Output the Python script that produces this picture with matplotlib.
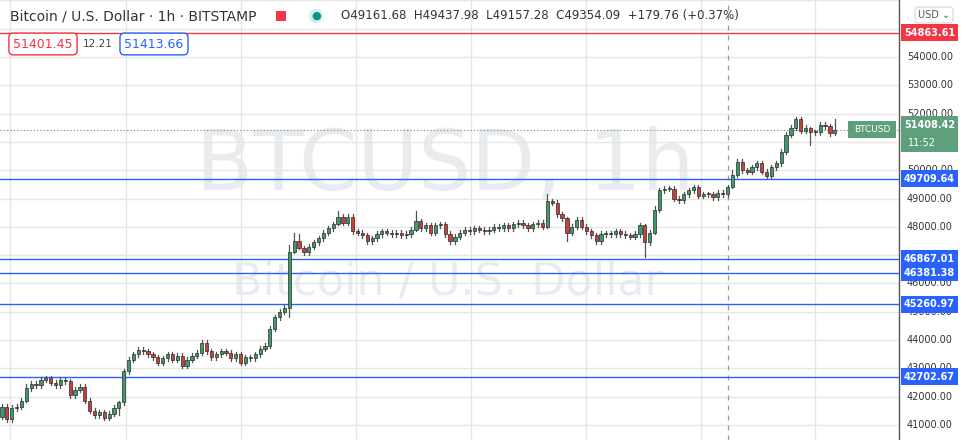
import numpy as np
import matplotlib.pyplot as plt
from matplotlib.patches import Rectangle

# hourly closes (BTC/USD, Bitstamp)
closes = [41650, 41200, 41600, 41650, 41850, 42300, 42450, 42400, 42600, 42650,
          42500, 42400, 42600, 42550, 42050, 42250, 42350, 41850, 41500, 41350,
          41450, 41250, 41400, 41600, 41800, 42900, 43300, 43500, 43650, 43600,
          43500, 43400, 43200, 43350, 43500, 43300, 43450, 43100, 43300, 43450,
          43550, 43900, 43600, 43400, 43500, 43600, 43550, 43350, 43500, 43200,
          43400, 43350, 43500, 43700, 43800, 44400, 44800, 45000, 45150, 47100,
          47500, 47250, 47100, 47300, 47450, 47600, 47800, 47950, 48100, 48350,
          48150, 48350, 47850, 47800, 47700, 47500, 47600, 47750, 47850, 47800,
          47750, 47800, 47700, 47750, 47900, 48200, 47950, 48050, 47800, 48050,
          48100, 47750, 47500, 47650, 47800, 47900, 47850, 47950, 47900, 47850,
          47900, 48000, 47950, 48050, 47950, 48100, 48150, 48050, 47950, 48100,
          48150, 48000, 48900, 48850, 48450, 48300, 47800, 48000, 48250, 48000,
          47850, 47700, 47500, 47750, 47750, 47750, 47850, 47750, 47700, 47650,
          47750, 48050, 47450, 47800, 48600, 49300, 49350, 49350, 49000, 48950,
          49150, 49300, 49400, 49100, 49150, 49150, 49050, 49200, 49150, 49400,
          49850, 50300, 50000, 49950, 50100, 50250, 49950, 49800, 50100, 50250,
          50650, 51250, 51500, 51800, 51400, 51500, 51350, 51350, 51600, 51550,
          51300, 51408.42]
first_open = 41300
# candles with long wicks: index -> (extra high, extra low)
long_wicks = {5: (150, 0), 24: (0, 250), 59: (250, 350), 60: (300, 0), 61: (250, 0),
              69: (200, 0), 85: (350, 0), 112: (250, 0), 116: (0, 300),
              132: (0, 500), 134: (150, 0), 150: (150, 0), 166: (0, 450), 171: (400, 0)}
default_wick = 90

levels_blue = [49709.64, 46867.01, 46381.38, 45260.97, 42702.67]
level_red = 54863.61
last_price = 51408.42
y_ticks = [41000, 42000, 43000, 44000, 45000, 46000, 48000, 49000, 50000,
           52000, 53000, 54000]

UP = "#3f9a6a"
DOWN = "#c9403a"
BLUE = "#2962ff"
RED = "#f23645"
GRID = "#e6e6e6"

W, H = 969, 440
fig = plt.figure(figsize=(W / 100, H / 100), dpi=100)
ax = fig.add_axes([0, 0, 899 / W, 1])
y_top, y_bot = 56017, 40470
x0, step = 2, 4.87
ax.set_xlim(-x0 / step, (899 - x0) / step)
ax.set_ylim(y_bot, y_top)
ax.axis("off")

def px(x):
    return (x - x0) / step

# grid
for g in [10, 126, 241, 356, 471, 586, 701, 815]:
    ax.axvline(px(g), color=GRID, lw=1, zorder=0)
for v in range(41000, 56001, 1000):
    ax.axhline(v, color=GRID, lw=1, zorder=0)

# watermark
ax.text(px(445), 50150, "BTCUSD, 1h", fontsize=60, color="#e3e5ea", ha="center",
        va="center", zorder=0, alpha=0.75)
ax.text(px(448), 46050, "Bitcoin / U.S. Dollar", fontsize=32, color="#e3e5ea",
        ha="center", va="center", zorder=0, alpha=0.75)

# candles
opens = [first_open] + closes[:-1]
for i, (o, c) in enumerate(zip(opens, closes)):
    hi_x, lo_x = long_wicks.get(i, (default_wick, default_wick))
    hi = max(o, c) + max(hi_x, 40)
    lo = min(o, c) - max(lo_x, 40)
    col = UP if c >= o else DOWN
    ax.plot([i, i], [lo, hi], color="#555555", lw=0.9, zorder=3)
    bh = max(abs(c - o), 30)
    ax.add_patch(Rectangle((i - 0.33, min(o, c)), 0.66, bh, facecolor=col,
                           edgecolor="#2b2b2b", lw=0.5, zorder=4))

# levels
for lv in levels_blue:
    ax.axhline(lv, color=BLUE, lw=1, zorder=2)
ax.axhline(level_red, color=RED, lw=1, zorder=2)
ax.axhline(last_price, color="#5a8f73", lw=0.8, ls=(0, (1, 2)), zorder=2)
ax.axvline(px(728), color="#9a9a9a", lw=0.9, ls=(0, (4, 4)), zorder=1)

# right price scale
fig.add_artist(plt.Line2D([899 / W, 899 / W], [0, 1], color="#555555", lw=1))

def fy(v):
    return (v - y_bot) / (y_top - y_bot)

for t in y_ticks:
    fig.text(907 / W, fy(t), f"{t:.2f}", fontsize=7, color="#333333", va="center", zorder=2)

def tag(v, txt, col, h=17):
    fig.patches.append(Rectangle((901 / W, fy(v) - h / 2 / H), 57 / W, h / H,
                                 transform=fig.transFigure, facecolor=col,
                                 edgecolor="none", zorder=5))
    fig.text(929.5 / W, fy(v), txt, fontsize=7, color="white", weight="bold",
             ha="center", va="center", zorder=6)

for lv in levels_blue:
    tag(lv, f"{lv:.2f}", BLUE)
tag(level_red, f"{level_red:.2f}", RED)
fig.patches.append(Rectangle((901 / W, (H - 152) / H), 57 / W, 36 / H,
                             transform=fig.transFigure, facecolor="#5e9f7c",
                             edgecolor="none", zorder=5))
fig.text(929.5 / W, (H - 125) / H, f"{last_price:.2f}", fontsize=7, color="white",
         weight="bold", ha="center", va="center", zorder=6)
fig.text(908 / W, (H - 143) / H, "11:52", fontsize=7, color="white", va="center", zorder=6)
fig.patches.append(Rectangle((848 / W, (H - 138) / H), 48 / W, 17 / H,
                             transform=fig.transFigure, facecolor="#5e9f7c",
                             edgecolor="none", zorder=5))
fig.text(872 / W, (H - 130) / H, "BTCUSD", fontsize=6.5, color="white", ha="center",
         va="center", zorder=6)
fig.text(934 / W, (H - 15) / H, "USD ⌄", fontsize=7, color="#555555", ha="center",
         va="center", bbox=dict(boxstyle="round,pad=0.3", fc="white", ec="#dddddd"))

# header
fig.text(10 / W, (H - 16) / H, "Bitcoin / U.S. Dollar · 1h · BITSTAMP", fontsize=10,
         color="#333333", va="center")
fig.patches.append(Rectangle((276 / W, (H - 21) / H), 10 / W, 10 / H,
                             transform=fig.transFigure, facecolor=RED, edgecolor="none"))
fig.text(316 / W, (H - 16) / H, "●", fontsize=8, color="#089981", ha="center", va="center",
         bbox=dict(boxstyle="circle,pad=0.2", fc="#d8efe9", ec="none"))
fig.text(341 / W, (H - 16) / H, "O49161.68  H49437.98  L49157.28  C49354.09  +179.76 (+0.37%)",
         fontsize=8.5, color="#333333", va="center")
fig.text(43 / W, (H - 44) / H, "51401.45", fontsize=9, color=RED, ha="center", va="center",
         bbox=dict(boxstyle="round,pad=0.35", fc="white", ec=RED))
fig.text(98 / W, (H - 44) / H, "12.21", fontsize=7.5, color="#444444", ha="center", va="center")
fig.text(154 / W, (H - 44) / H, "51413.66", fontsize=9, color=BLUE, ha="center", va="center",
         bbox=dict(boxstyle="round,pad=0.35", fc="white", ec=BLUE))

fig.savefig("out.png", dpi=100)
